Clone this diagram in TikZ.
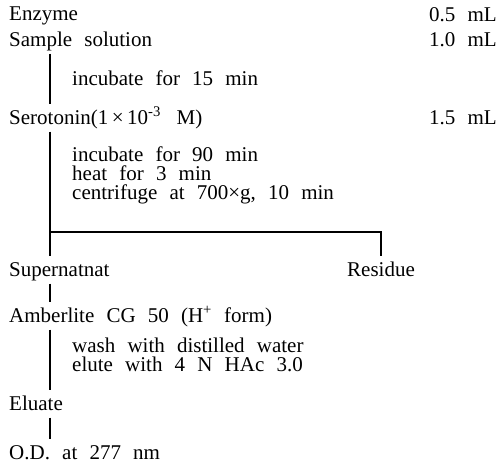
\documentclass[tikz,border=0pt]{standalone}
\usepackage{fontspec}
\setmainfont{Liberation Serif}
\usetikzlibrary{positioning,calc}
\newcommand{\flowfont}{\fontsize{21}{23}\selectfont\spaceskip=0.58em\relax}

\begin{document}
\begin{tikzpicture}[
 x=1pt,y=-1pt,
 txt/.style={anchor=base west,inner sep=0pt,text height=14.5pt,text depth=4.5pt,font=\flowfont},
 amt/.style={txt,anchor=base east},
 link/.style={line width=1.3pt,shorten <=3pt,shorten >=5pt}
]
\useasboundingbox (0,0) rectangle (498,474);
% reagents
\node[txt] (enz) at (9,20) {Enzyme};
\node[txt] (smp) at (9,46) {Sample solution};
\node[amt] (v1) at (497,21) {0.5 mL};
\node[amt] (v2) at (497,46) {1.0 mL};
\node[txt] (inc1) at (72,85) {incubate for 15 min};
\node[txt] (sero) at (9,124) {Serotonin(1\,×\,10\textsuperscript{-3}\,\ M)};
\node[amt] (v3) at (497,124) {1.5 mL};
% treatment
\node[txt] (inc2) at (72,161) {incubate for 90 min};
\node[txt] (heat) at (72,180) {heat for 3 min};
\node[txt] (cent) at (72,199) {centrifuge at 700×g, 10 min};
\node[txt] (sup) at (9,276) {Supernatnat};
\node[txt] (res) at (347,276) {Residue};
% column
\node[txt] (amb) at (9,322) {Amberlite CG 50 (H\textsuperscript{+} form)};
\node[txt] (wash) at (72,352) {wash with distilled water};
\node[txt] (elu) at (72,371) {elute with 4 N HAc 3.0};
\node[txt] (elt) at (9,410) {Eluate};
\node[txt] (od) at (9,459) {O.D. at 277 nm};
\coordinate (stem) at (50,0);
\coordinate (split) at (50,232);
\draw[link] (smp.south -| stem) -- (sero.north -| stem);
\draw[link] (sero.south -| stem) -- (sup.north -| stem);
\draw[link,shorten <=0pt] (split) -| (res.north);
\draw[link] (sup.south -| stem) -- (amb.north -| stem);
\draw[link] (amb.south -| stem) -- (elt.north -| stem);
\draw[link] (elt.south -| stem) -- (od.north -| stem);
\end{tikzpicture}
\end{document}
